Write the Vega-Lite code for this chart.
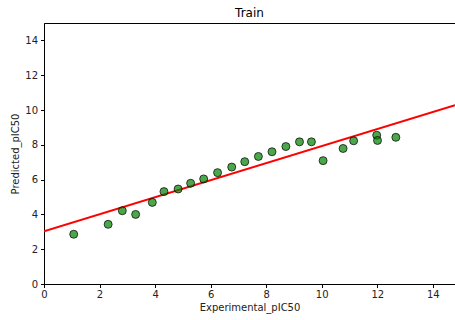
{
  "$schema": "https://vega.github.io/schema/vega-lite/v6.json",
  "autosize": {"type": "none"},
  "padding": {"left": 44, "top": 23, "right": 0, "bottom": 36},
  "width": 411,
  "height": 261,
  "title": {"text": "Train", "font": "DejaVu Sans", "fontSize": 12, "fontWeight": "normal", "color": "#000000", "offset": 3},
  "config": {
    "font": "DejaVu Sans",
    "view": {"stroke": "#000000", "strokeWidth": 1},
    "axis": {
      "labelFont": "DejaVu Sans", "labelFontSize": 10, "labelColor": "#222222",
      "titleFont": "DejaVu Sans", "titleFontSize": 10, "titleFontWeight": "normal", "titleColor": "#222222",
      "tickColor": "#000000", "tickSize": 3.5, "domainColor": "#000000", "grid": false,
      "labelOverlap": false, "labelFlush": false
    }
  },
  "datasets": {
    "points": [
      {"exp": 1.07, "pred": 2.86},
      {"exp": 2.31, "pred": 3.43},
      {"exp": 2.82, "pred": 4.21},
      {"exp": 3.30, "pred": 4.00},
      {"exp": 3.90, "pred": 4.69},
      {"exp": 4.32, "pred": 5.31},
      {"exp": 4.83, "pred": 5.46},
      {"exp": 5.28, "pred": 5.79},
      {"exp": 5.75, "pred": 6.04},
      {"exp": 6.25, "pred": 6.40},
      {"exp": 6.76, "pred": 6.72},
      {"exp": 7.23, "pred": 7.03},
      {"exp": 7.72, "pred": 7.33},
      {"exp": 8.21, "pred": 7.60},
      {"exp": 8.71, "pred": 7.90},
      {"exp": 9.20, "pred": 8.17},
      {"exp": 9.63, "pred": 8.17},
      {"exp": 10.05, "pred": 7.09},
      {"exp": 10.77, "pred": 7.79},
      {"exp": 11.15, "pred": 8.23},
      {"exp": 11.98, "pred": 8.55},
      {"exp": 12.01, "pred": 8.25},
      {"exp": 12.67, "pred": 8.43}
    ],
    "fit": [
      {"exp": 0, "pred": 3.03},
      {"exp": 14.8, "pred": 10.27}
    ]
  },
  "encoding": {
    "x": {"field": "exp", "type": "quantitative", "title": "Experimental_pIC50",
          "scale": {"domain": [0, 14.8], "nice": false, "zero": false},
          "axis": {"values": [0, 2, 4, 6, 8, 10, 12, 14], "labelPadding": 2, "titlePadding": 3}},
    "y": {"field": "pred", "type": "quantitative", "title": "Predicted_pIC50",
          "scale": {"domain": [0, 15], "nice": false},
          "axis": {"values": [0, 2, 4, 6, 8, 10, 12, 14], "labelPadding": 3, "titlePadding": 4}}
  },
  "layer": [
    {
      "data": {"name": "fit"},
      "mark": {"type": "line", "color": "#ff0000", "strokeWidth": 2, "clip": true}
    },
    {
      "data": {"name": "points"},
      "mark": {"type": "circle", "size": 64, "fill": "#008000", "fillOpacity": 0.7, "stroke": "#000000", "strokeOpacity": 0.7, "strokeWidth": 1, "opacity": 1}
    }
  ]
}
